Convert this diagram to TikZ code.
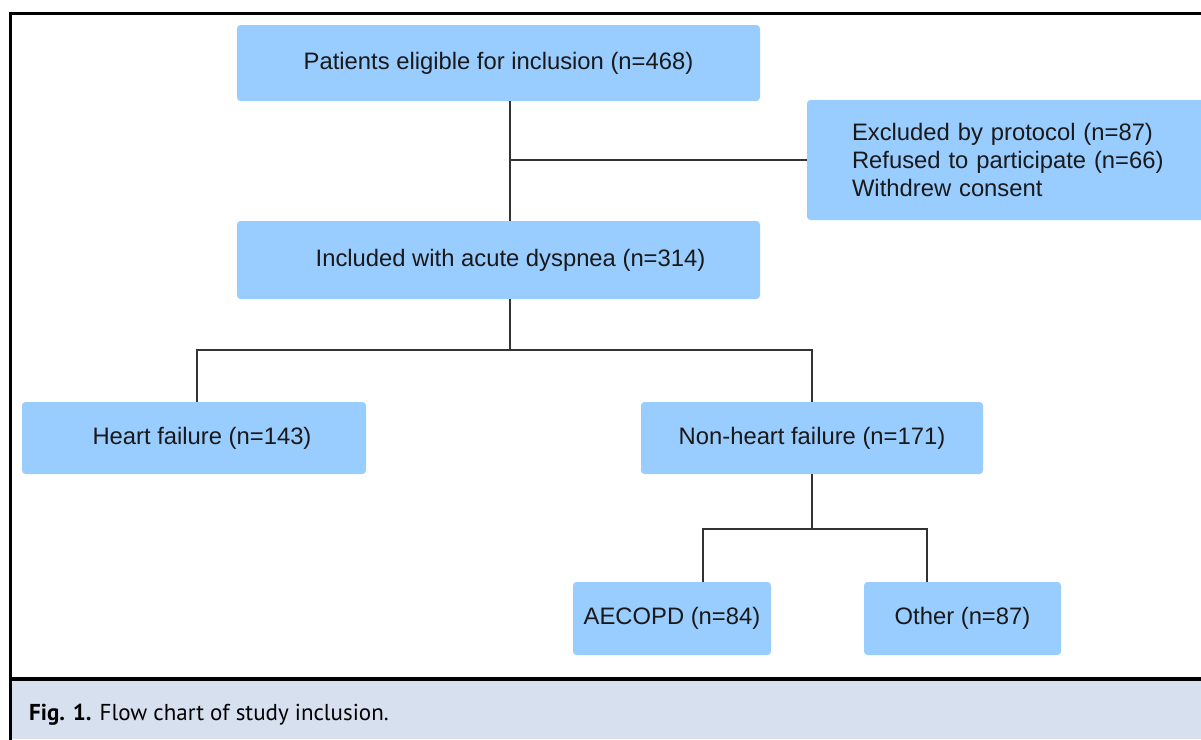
\documentclass[tikz,border=0pt]{standalone}
\usepackage{fontspec}
\setmainfont{Liberation Sans}
\newfontfamily\capfont{PT Sans}
\definecolor{boxblue}{RGB}{153,204,255}
\definecolor{capband}{RGB}{214,224,238}
\definecolor{linegray}{RGB}{51,51,51}
\begin{document}
\begin{tikzpicture}[x=1pt,y=-1pt,
  flowbox/.style={fill=boxblue,rounded corners=3.5pt,inner sep=0pt,text=black!90,font=\fontsize{23.8}{28}\selectfont},
  link/.style={draw=linegray,line width=1.6pt}]
\useasboundingbox (0,0) rectangle (1201,739);
\fill[white] (0,0) rectangle (1201,739);
\fill[capband] (10.5,679) rectangle (1201,739);
\draw[line width=3.5pt] (1210,13.5) -- (10.5,13.5) -- (10.5,745);
\draw[line width=3.5pt] (10.5,679) -- (1210,679);

\node[flowbox,minimum width=523pt,minimum height=76pt] (elig) at (498.5,63) {Patients eligible for inclusion (n=468)};
\node[flowbox,minimum width=408pt,minimum height=120pt,text width=318pt,align=left,inner xsep=45pt] (excl) at (1011,160) {Excluded by protocol (n=87)\\Refused to participate (n=66)\\Withdrew consent};
\node[flowbox,minimum width=523pt,minimum height=78pt] (incl) at (498.5,260) {\hspace*{24pt}Included with acute dyspnea (n=314)};
\node[flowbox,minimum width=344pt,minimum height=72pt] (hf) at (194,438) {\hspace*{16pt}Heart failure (n=143)};
\node[flowbox,minimum width=342pt,minimum height=72pt] (nhf) at (812,438) {Non-heart failure (n=171)};
\node[flowbox,minimum width=198pt,minimum height=73pt] (aecopd) at (672,618.5) {AECOPD (n=84)};
\node[flowbox,minimum width=197pt,minimum height=73pt] (other) at (962.5,618.5) {Other (n=87)};

\coordinate (trunk) at (510,160);
\draw[link] (elig.south -| trunk) -- (incl.north -| trunk);
\draw[link] (trunk) -- (excl.west);

\coordinate (split1) at (510,350);
\coordinate (hfcorner) at (197,350);
\draw[link] (incl.south -| split1) -- (split1);
\draw[link] (hf.north -| hfcorner) -- (hfcorner) -| (nhf.north);

\coordinate (split2) at (812,529);
\coordinate (aecorner) at (703,529);
\coordinate (otcorner) at (927,529);
\draw[link] (nhf.south) -- (split2);
\draw[link] (aecopd.north -| aecorner) -- (aecorner) -- (otcorner) -- (other.north -| otcorner);

\node[anchor=base west,inner sep=0pt,font=\capfont\fontsize{23}{27}\selectfont] (caption) at (29,720) {\textbf{Fig. 1.} Flow chart of study inclusion.};
\end{tikzpicture}
\end{document}
